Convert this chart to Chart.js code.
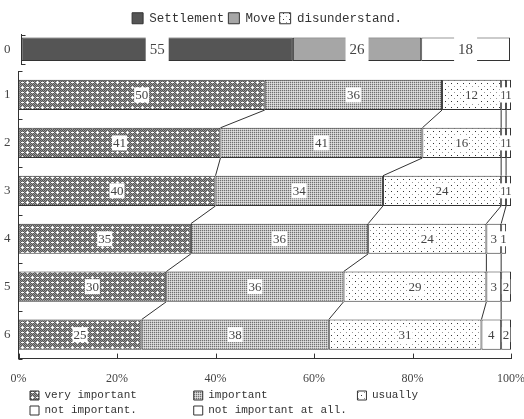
<!DOCTYPE html>
<html>
<head>
<meta charset="utf-8">
<script src="https://cdn.jsdelivr.net/npm/chart.js@4"></script>
<style>
  body { margin: 0; background: #fff; }
  #wrap { position: relative; width: 524px; height: 419px; background: #fff; overflow: hidden; }
  #top { position: absolute; left: 0; top: 0; }
  #main { position: absolute; left: 0; top: 70px; }
</style>
</head>
<body>
<div id="wrap">
  <canvas id="top" width="524" height="74"></canvas>
  <canvas id="main" width="524" height="349"></canvas>
</div>
<script>
// top strip
const topCats = ['0'];
const settlement = [55];
const move = [26];
const disunderstand = [18];

// main rows
const rows = ['1', '2', '3', '4', '5', '6'];
const veryImportant = [50, 41, 40, 35, 30, 25];
const important = [36, 41, 34, 36, 36, 38];
const usually = [12, 16, 24, 24, 29, 31];
const notImportant = [1, 1, 1, 3, 3, 4];
const notAtAll = [1, 1, 1, 1, 2, 2];
const pctTicks = [0, 20, 40, 60, 80, 100];

const INK = '#333';
const serif = 'Liberation Serif';
const mono = 'Liberation Mono';

function makePattern(w, h, draw) {
    const c = document.createElement('canvas');
    c.width = w; c.height = h;
    const g = c.getContext('2d');
    draw(g);
    return g.createPattern(c, 'repeat');
}

const darkHatch = makePattern(10, 10, g => {
    g.fillStyle = '#9a9a9a'; g.fillRect(0, 0, 10, 10);
    g.fillStyle = '#555';
    for (let y = 0; y < 10; y++) for (let x = 0; x < 10; x++) if ((x + y) % 2 === 0) g.fillRect(x, y, 1, 1);
    g.fillStyle = '#fff';
    g.fillRect(1, 2, 3, 1);
    g.fillRect(7, 1, 1, 3); g.fillRect(6, 2, 3, 1);
    g.fillRect(6, 7, 3, 1);
    g.fillRect(2, 6, 1, 3); g.fillRect(1, 7, 3, 1);
});
const greyDots = makePattern(2, 2, g => {
    g.fillStyle = '#c4c4c4'; g.fillRect(0, 0, 2, 2);
    g.fillStyle = '#707070'; g.fillRect(0, 0, 1, 1);
    g.fillStyle = '#e2e2e2'; g.fillRect(1, 1, 1, 1);
});
const sparseDots = makePattern(6, 6, g => {
    g.fillStyle = '#fff'; g.fillRect(0, 0, 6, 6);
    g.fillStyle = '#333'; g.fillRect(1, 1, 1, 1);
    g.fillStyle = '#999'; g.fillRect(4, 4, 1, 1);
});

const segmentLabels = {
    id: 'segmentLabels',
    afterDatasetsDraw(chart, args, opts) {
        const ctx = chart.ctx;
        ctx.save();
        ctx.font = opts.size + 'px "' + serif + '"';
        ctx.textAlign = 'center';
        ctx.textBaseline = 'middle';
        chart.data.datasets.forEach((ds, i) => {
            chart.getDatasetMeta(i).data.forEach((bar, j) => {
                const v = ds.data[j];
                if (v == null) return;
                const p = bar.getProps(['x', 'y', 'base', 'height'], true);
                const cx = (p.x + p.base) / 2;
                const w = ctx.measureText(String(v)).width + opts.padX * 2;
                const h = opts.fullHeight ? p.height + 2 : opts.size + 2;
                ctx.fillStyle = '#fff';
                ctx.fillRect(cx - w / 2, p.y - h / 2, w, h);
                ctx.fillStyle = '#444';
                ctx.fillText(String(v), cx, p.y + 1);
            });
        });
        ctx.restore();
    }
};

const connectors = {
    id: 'connectors',
    afterDatasetsDraw(chart, args, opts) {
        if (!opts.enabled) return;
        const ctx = chart.ctx;
        const n = chart.data.datasets.length;
        ctx.save();
        ctx.strokeStyle = INK;
        ctx.lineWidth = 1;
        for (let k = 0; k < n - 1; k++) {
            const bars = chart.getDatasetMeta(k).data;
            for (let j = 0; j < bars.length - 1; j++) {
                const a = bars[j], b = bars[j + 1];
                ctx.beginPath();
                ctx.moveTo(a.x, a.y + a.height / 2);
                ctx.lineTo(b.x, b.y - b.height / 2);
                ctx.stroke();
            }
        }
        ctx.restore();
    }
};

const innerTicks = {
    id: 'innerTicks',
    afterDraw(chart, args, opts) {
        const { ctx, chartArea: a, scales: { x, y } } = chart;
        ctx.save();
        ctx.strokeStyle = INK;
        ctx.lineWidth = 1;
        ctx.beginPath();
        if (opts.x) {
            x.ticks.forEach(t => {
                const px = Math.round(x.getPixelForValue(t.value)) + 0.5;
                ctx.moveTo(px, a.bottom - 5);
                ctx.lineTo(px, a.bottom);
            });
        }
        for (let i = 0; i <= y.ticks.length; i++) {
            const py = Math.round(y.getPixelForValue(i - 0.5)) + 0.5;
            ctx.moveTo(a.left, py);
            ctx.lineTo(a.left + 4, py);
        }
        ctx.stroke();
        ctx.restore();
    }
};

// nudge a legend sideways after layout
const legendIndent = {
    id: 'legendIndent',
    afterLayout(chart, args, opts) {
        if (!opts.by) return;
        chart.legend.left += opts.by;
        chart.legend.right += opts.by;
    }
};

// drop the extra room Chart.js reserves around axis labels
const noPad = s => { s.paddingTop = 0; s.paddingBottom = 0; s.paddingLeft = 0; s.paddingRight = 0; };
const fitY = s => { noPad(s); s.width -= s.options.ticks.padding; };
const fitX = s => { noPad(s); s.height -= s.options.ticks.padding; };

const base = { borderColor: INK, borderWidth: 1, borderSkipped: false };

// ---- top strip chart
const topTotal = settlement[0] + move[0] + disunderstand[0];
new Chart(document.getElementById('top'), {
    type: 'bar',
    data: {
        labels: topCats,
        datasets: [
            { ...base, label: 'Settlement', data: settlement, backgroundColor: '#555' },
            { ...base, label: 'Move', data: move, backgroundColor: '#a6a6a6' },
            { ...base, label: 'disunderstand.', data: disunderstand, backgroundColor: '#fff' },
        ],
    },
    options: {
        indexAxis: 'y',
        responsive: false,
        animation: false,
        devicePixelRatio: 1,
        layout: { padding: { left: 4, right: 14, top: 8, bottom: 10 } },
        datasets: { bar: { categoryPercentage: 1, barPercentage: 0.8 } },
        scales: {
            x: { stacked: true, min: 0, max: topTotal, display: false },
            y: {
                stacked: true,
                grid: { display: false, drawTicks: false },
                border: { color: INK },
                afterFit: fitY,
                ticks: { padding: 11, color: '#444', font: { family: serif, size: 13 } },
            },
        },
        plugins: {
            legend: {
                position: 'top',
                labels: {
                    font: { family: mono, size: 12.5 },
                    color: INK,
                    boxWidth: 11,
                    boxHeight: 11,
                    padding: 4,
                    generateLabels: chart => {
                        const items = Chart.defaults.plugins.legend.labels.generateLabels(chart);
                        items[2].fillStyle = sparseDots;
                        return items;
                    },
                },
            },
            legendIndent: { by: 10 },
            tooltip: { enabled: false },
            segmentLabels: { size: 15, padX: 4, fullHeight: true },
            connectors: { enabled: false },
            innerTicks: { x: false },
        },
    },
    plugins: [segmentLabels, connectors, innerTicks, legendIndent],
});

// ---- main chart
new Chart(document.getElementById('main'), {
    type: 'bar',
    data: {
        labels: rows,
        datasets: [
            { ...base, label: 'very important', data: veryImportant, backgroundColor: darkHatch },
            { ...base, label: 'important', data: important, backgroundColor: greyDots },
            { ...base, label: 'usually', data: usually, backgroundColor: sparseDots },
            { ...base, label: 'not important.', data: notImportant, backgroundColor: '#fff' },
            { ...base, label: 'not important at all.', data: notAtAll, backgroundColor: '#fff' },
        ],
    },
    options: {
        indexAxis: 'y',
        responsive: false,
        animation: false,
        devicePixelRatio: 1,
        layout: { padding: { left: 4, right: 13, top: 1, bottom: -7 } },
        datasets: { bar: { categoryPercentage: 1, barPercentage: 0.63 } },
        scales: {
            x: {
                stacked: true,
                min: 0,
                max: 100,
                grid: { display: false, drawTicks: false },
                border: { color: INK },
                afterBuildTicks: s => { s.ticks = pctTicks.map(v => ({ value: v })); },
                afterFit: fitX,
                ticks: {
                    padding: 13,
                    color: '#444',
                    font: { family: serif, size: 12 },
                    callback: v => v + '%',
                },
            },
            y: {
                stacked: true,
                grid: { display: false, drawTicks: false },
                border: { color: INK },
                afterFit: fitY,
                ticks: { padding: 8, color: '#444', font: { family: serif, size: 13 } },
            },
        },
        plugins: {
            legend: {
                position: 'bottom',
                align: 'start',
                labels: {
                    font: { family: mono, size: 11 },
                    color: INK,
                    boxWidth: 9,
                    boxHeight: 9,
                    padding: 4,
                    generateLabels: chart => {
                        const items = Chart.defaults.plugins.legend.labels.generateLabels(chart);
                        items.forEach(it => { it.text = it.text.padEnd(22, ' '); });
                        return items;
                    },
                },
            },
            legendIndent: { by: 22 },
            tooltip: { enabled: false },
            segmentLabels: { size: 13, padX: 1, fullHeight: false },
            connectors: { enabled: true },
            innerTicks: { x: true },
        },
    },
    plugins: [segmentLabels, connectors, innerTicks, legendIndent],
});
</script>
</body>
</html>
